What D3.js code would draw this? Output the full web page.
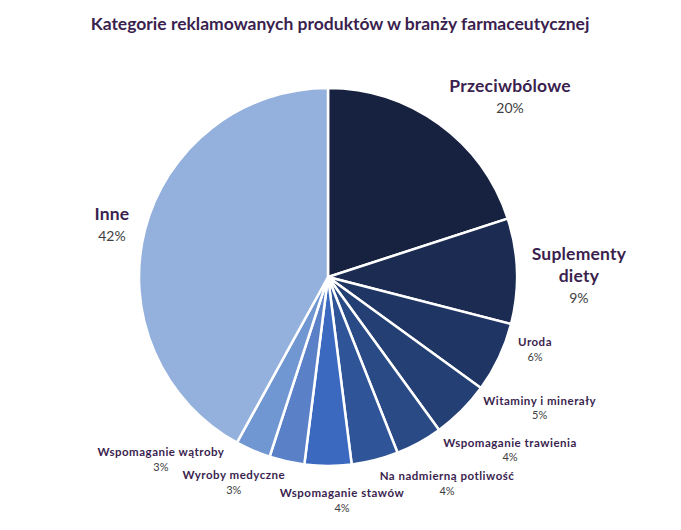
<!DOCTYPE html>
<html>
<head>
<meta charset="utf-8">
<script src="https://cdn.jsdelivr.net/npm/d3@7"></script>
<style>
  body { margin: 0; background: #fff; }
  text { font-family: Lato, "Open Sans", sans-serif; }
</style>
</head>
<body>
<div id="svgWrapper"></div>
<script>
// chart data
var categories = ["Przeciwbólowe", "Suplementy diety", "Uroda", "Witaminy i minerały", "Wspomaganie trawienia",
  "Na nadmierną potliwość", "Wspomaganie stawów", "Wyroby medyczne", "Wspomaganie wątroby", "Inne"];
var shares = [20, 9, 6, 5, 4, 4, 4, 3, 3, 42];
var colors = ["#16223f", "#1b2b52", "#1f3564", "#243f74", "#2a4a86", "#2f5598", "#3a69bf", "#5a80c8", "#7197d3", "#94b0dc"];

var fullWidth = 681, fullHeight = 530;
var cx = 328, cy = 277, radius = 189;

// label layout: lines of name, size class, nudge from the slice's outer mid point
var labelLines = [["Przeciwbólowe"], ["Suplementy", "diety"], ["Uroda"], ["Witaminy i minerały"], ["Wspomaganie trawienia"],
  ["Na nadmierną potliwość"], ["Wspomaganie stawów"], ["Wyroby medyczne"], ["Wspomaganie wątroby"], ["Inne"]];
var bigLabel = [true, true, false, false, false, false, false, false, false, true];
var nudges = [[71, -38], [62, -17], [36, -15], [78, -10], [91, 0], [72, 16], [14, 27], [-53, 14], [-92, 2], [-33, -16]];

var svg = d3.select("#svgWrapper")
  .append("svg")
  .attr("width", fullWidth)
  .attr("height", fullHeight);

// title
svg.append("text")
  .attr("x", 340)
  .attr("y", 30)
  .style("text-anchor", "middle")
  .style("font-size", "17.5px")
  .style("font-weight", "bold")
  .style("fill", "#3b1f4f")
  .text("Kategorie reklamowanych produktów w branży farmaceutycznej");

var pie = d3.pie().sort(null).value(function(d) { return d; });
var arcs = pie(shares);

var arc = d3.arc().innerRadius(0).outerRadius(radius);

var g = svg.append("g").attr("transform", "translate(" + cx + "," + cy + ")");

g.selectAll("path.slice")
  .data(arcs)
  .enter().append("path")
  .attr("class", "slice")
  .attr("d", arc)
  .attr("fill", function(d, i) { return colors[i]; })
  .attr("stroke", "#fff")
  .attr("stroke-width", 2.5);

// labels
arcs.forEach(function(d, i) {
  var mid = (d.startAngle + d.endAngle) / 2;
  var px = radius * Math.sin(mid) + nudges[i][0];
  var py = -radius * Math.cos(mid) + nudges[i][1];
  var big = bigLabel[i];
  var nameSize = big ? 17.5 : 11.5;
  var pctSize = big ? 14 : 11;
  var lineH = big ? 22 : 15;

  var t = g.append("text")
    .attr("x", px)
    .attr("y", py)
    .style("text-anchor", "middle");

  labelLines[i].forEach(function(line, j) {
    t.append("tspan")
      .attr("x", px)
      .attr("y", py + j * lineH)
      .attr("dy", "0.35em")
      .style("font-size", nameSize + "px")
      .style("font-weight", "bold")
      .style("letter-spacing", big ? "0.2px" : "0.5px")
      .style("fill", "#3b1f4f")
      .text(line);
  });
  t.append("tspan")
    .attr("x", px)
    .attr("y", py + labelLines[i].length * lineH)
    .attr("dy", "0.35em")
    .style("font-size", pctSize + "px")
    .style("fill", "#404040")
    .text(shares[i] + "%");
});
</script>
</body>
</html>
